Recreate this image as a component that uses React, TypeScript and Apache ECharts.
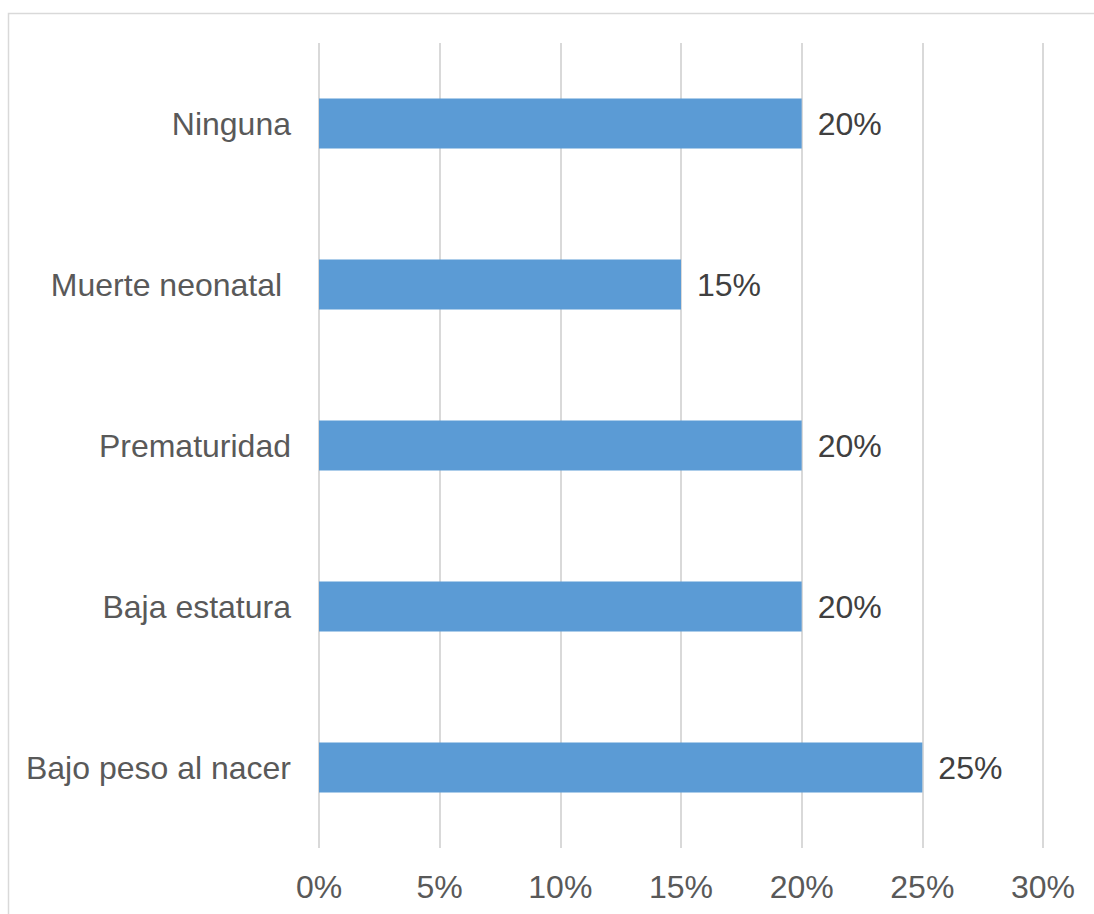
import React, { useEffect, useRef } from "react";
import * as echarts from "echarts";

const categories = ["Bajo peso al nacer", "Baja estatura", "Prematuridad", "Muerte neonatal ", "Ninguna"];
const values = [25, 20, 20, 15, 20];
const xTicks = { min: 0, max: 30, interval: 5 };

export default function App() {
  const ref = useRef<HTMLDivElement>(null);
  useEffect(() => {
    const chart = echarts.init(ref.current!, null, { renderer: "svg" });
    const font = "'Liberation Sans', Arial, sans-serif";
    chart.setOption({
      animation: false,
      backgroundColor: "#ffffff",
      textStyle: { fontFamily: font },
      graphic: [
        {
          type: "rect",
          shape: { x: 8.5, y: 13.5, width: 1200, height: 1000 },
          style: { fill: "none", stroke: "#D9D9D9", lineWidth: 1.5 },
          silent: true,
        },
      ],
      grid: { left: 319, right: 51, top: 43, bottom: 66 },
      xAxis: {
        type: "value",
        min: xTicks.min,
        max: xTicks.max,
        interval: xTicks.interval,
        axisLine: { show: false },
        axisTick: { show: false },
        splitLine: { show: true, lineStyle: { color: "#D9D9D9", width: 2 } },
        axisLabel: {
          formatter: "{value}%",
          fontSize: 32,
          color: "#595959",
          margin: 23,
          fontFamily: font,
        },
      },
      yAxis: {
        type: "category",
        data: categories,
        axisLine: { show: false },
        axisTick: { show: false },
        splitLine: { show: false },
        axisLabel: {
          fontSize: 32,
          color: "#595959",
          margin: 28,
          fontFamily: font,
        },
      },
      series: [
        {
          type: "bar",
          data: values,
          barWidth: "31%",
          itemStyle: { color: "#5B9BD5" },
          label: {
            show: true,
            position: "right",
            distance: 16,
            formatter: "{c}%",
            fontSize: 32,
            color: "#404040",
            fontFamily: font,
          },
        },
      ],
    });
    return () => chart.dispose();
  }, []);
  return (
    <div
      ref={ref}
      style={{ position: "absolute", left: 0, top: 0, width: 1094, height: 914 }}
    />
  );
}
